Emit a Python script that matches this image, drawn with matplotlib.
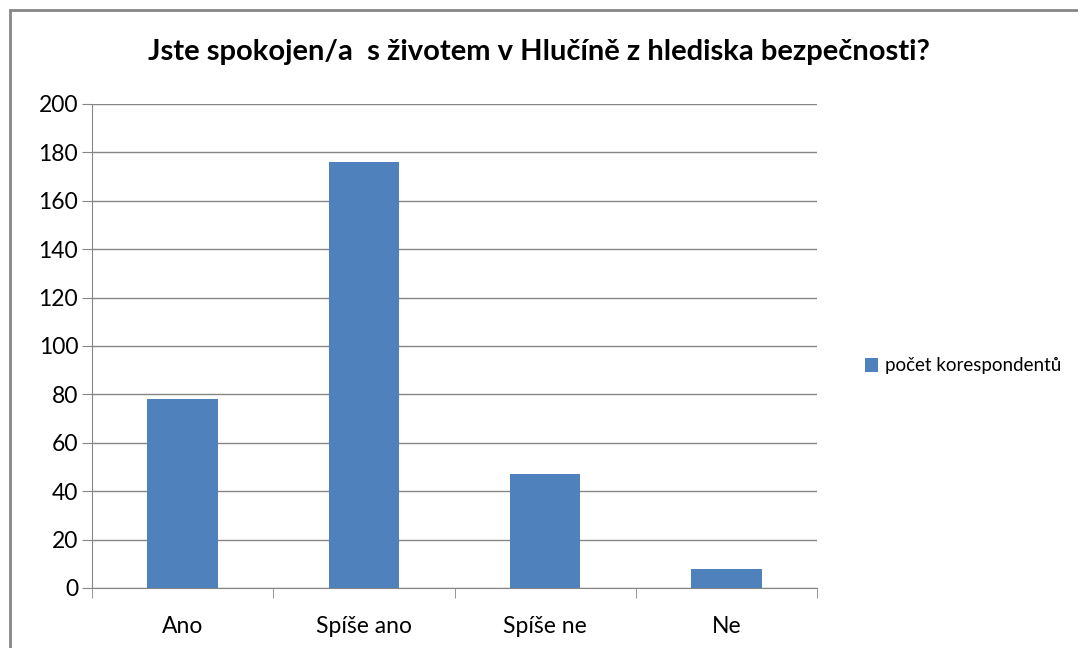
import matplotlib.pyplot as plt
from matplotlib.patches import Rectangle
import numpy as np

kategorie = ["Ano", "Spíše ano", "Spíše ne", "Ne"]
pocet = [78, 176, 47, 8]
nazev = "Jste spokojen/a  s životem v Hlučíně z hlediska bezpečnosti?"
legenda = "počet korespondentů"

plt.rcParams['font.family'] = ['Lato', 'DejaVu Sans']

fig = plt.figure(figsize=(10.78, 6.48), dpi=100)
ax = fig.add_axes([92/1078, 60/648, 725/1078, 484/648])

x = np.arange(len(kategorie))
ax.bar(x, pocet, width=0.39, color='#4F81BD', label=legenda, zorder=3)

ax.set_xlim(-0.5, len(kategorie) - 0.5)
ax.set_ylim(0, 200)
ax.set_yticks(np.arange(0, 201, 20))
ax.set_xticks(x)
ax.set_xticklabels(kategorie, fontsize=16.5)
ax.set_xticks(np.arange(-0.5, len(kategorie)), minor=True)
ax.tick_params(axis='x', which='major', length=0, pad=20)
ax.tick_params(axis='x', which='minor', length=7, color='#868686', direction='out')
ax.tick_params(axis='y', length=7, color='#868686', labelsize=16.5, pad=3)

ax.grid(axis='y', color='#868686', lw=1, zorder=0)
for s in ['top', 'right']:
    ax.spines[s].set_visible(False)
ax.spines['left'].set_color('#868686')
ax.spines['bottom'].set_color('#868686')

fig.text(0.5, (648-52)/648, nazev, ha='center', va='center', fontsize=21, fontweight='bold')

fig.legend(loc='center left', bbox_to_anchor=(848/1078, (648-366)/648), frameon=False,
           fontsize=13.5, handlelength=0.7, handleheight=0.7, handletextpad=0.4)

# ramecek grafu
fig.patches.append(Rectangle((10/1078, -0.1), 1.2, (648-10)/648 + 0.1, transform=fig.transFigure,
                             fill=False, edgecolor='#868686', lw=2))

fig.savefig("out.png", dpi=100)
